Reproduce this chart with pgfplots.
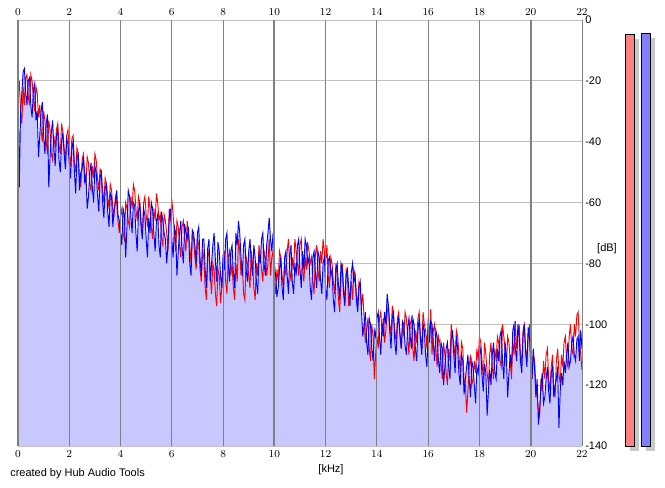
\documentclass[border=0pt]{standalone}
\usepackage{pgfplots}
\pgfplotsset{compat=1.18}
\usepackage{pgfplotstable}
\usepackage{fontspec}
\setmainfont{Liberation Sans}
\definecolor{lav}{RGB}{200,200,255}
\definecolor{hgrid}{RGB}{192,192,192}
\definecolor{vgrid}{RGB}{128,128,128}
\definecolor{mred}{RGB}{255,128,128}
\definecolor{mblue}{RGB}{128,128,255}
\definecolor{mshadow}{RGB}{200,200,200}

\pgfplotstableread{
x y
0.0 -22
0.05 -55
0.1 -30
0.15 -24
0.2 -17
0.25 -16
0.3 -24
0.35 -28
0.4 -20
0.45 -19
0.5 -28
0.55 -32
0.6 -23
0.65 -21
0.7 -33
0.75 -30
0.8 -45
0.85 -38
0.9 -30
0.95 -27
1.0 -38
1.05 -44
1.1 -34
1.15 -31
1.2 -55
1.25 -45
1.3 -37
1.35 -33
1.4 -42
1.45 -48
1.5 -38
1.55 -36
1.6 -46
1.65 -50
1.7 -40
1.75 -37
1.8 -44
1.85 -49
1.9 -39
1.95 -41
2.0 -47
2.05 -52
2.1 -42
2.15 -40
2.2 -50
2.25 -57
2.3 -45
2.35 -44
2.4 -56
2.45 -50
2.5 -49
2.55 -45
2.6 -53
2.65 -51
2.7 -62
2.75 -58
2.8 -50
2.85 -47
2.9 -55
2.95 -60
3.0 -48
3.05 -50
3.1 -57
3.15 -63
3.2 -52
3.25 -50
3.3 -60
3.35 -65
3.4 -55
3.45 -54
3.5 -63
3.55 -68
3.6 -57
3.65 -58
3.7 -68
3.75 -62
3.8 -60
3.85 -56
3.9 -64
3.95 -66
4.0 -70
4.05 -74
4.1 -62
4.15 -64
4.2 -78
4.25 -68
4.3 -56
4.35 -58
4.4 -64
4.45 -70
4.5 -60
4.55 -61
4.6 -70
4.65 -76
4.7 -63
4.75 -60
4.8 -68
4.85 -72
4.9 -62
4.95 -64
5.0 -72
5.05 -78
5.1 -65
5.15 -70
5.2 -60
5.25 -62
5.3 -70
5.35 -76
5.4 -66
5.45 -64
5.5 -74
5.55 -78
5.6 -63
5.65 -66
5.7 -70
5.75 -72
5.8 -80
5.85 -74
5.9 -65
5.95 -62
6.0 -72
6.05 -78
6.1 -68
6.15 -70
6.2 -84
6.25 -76
6.3 -70
6.35 -66
6.4 -75
6.45 -80
6.5 -67
6.55 -70
6.6 -72
6.65 -68
6.7 -80
6.75 -84
6.8 -69
6.85 -70
6.9 -74
6.95 -80
7.0 -70
7.05 -68
7.1 -78
7.15 -84
7.2 -72
7.25 -72
7.3 -82
7.35 -88
7.4 -75
7.45 -72
7.5 -86
7.55 -80
7.6 -74
7.65 -70
7.7 -79
7.75 -86
7.8 -73
7.85 -76
7.9 -84
7.95 -88
8.0 -77
8.05 -82
8.1 -72
8.15 -70
8.2 -80
8.25 -86
8.3 -76
8.35 -74
8.4 -83
8.45 -88
8.5 -70
8.55 -74
8.6 -66
8.65 -70
8.7 -78
8.75 -84
8.8 -74
8.85 -72
8.9 -82
8.95 -86
9.0 -76
9.05 -72
9.1 -80
9.15 -84
9.2 -74
9.25 -78
9.3 -86
9.35 -90
9.4 -77
9.45 -80
9.5 -72
9.55 -70
9.6 -80
9.65 -84
9.7 -74
9.75 -70
9.8 -65
9.85 -72
9.9 -76
9.95 -70
10.0 -80
10.05 -84
10.1 -91
10.15 -88
10.2 -82
10.25 -78
10.3 -88
10.35 -92
10.4 -78
10.45 -76
10.5 -84
10.55 -90
10.6 -77
10.65 -74
10.7 -86
10.75 -90
10.8 -80
10.85 -84
10.9 -74
10.95 -72
11.0 -82
11.05 -88
11.1 -76
11.15 -82
11.2 -72
11.25 -74
11.3 -80
11.35 -78
11.4 -88
11.45 -92
11.5 -78
11.55 -76
11.6 -83
11.65 -88
11.7 -76
11.75 -78
11.8 -85
11.85 -90
11.9 -80
11.95 -78
12.0 -88
12.05 -92
12.1 -79
12.15 -78
12.2 -84
12.25 -82
12.3 -92
12.35 -96
12.4 -82
12.45 -80
12.5 -87
12.55 -92
12.6 -80
12.65 -82
12.7 -90
12.75 -94
12.8 -84
12.85 -82
12.9 -88
12.95 -94
13.0 -83
13.05 -80
13.1 -86
13.15 -84
13.2 -92
13.25 -96
13.3 -88
13.35 -86
13.4 -96
13.45 -104
13.5 -100
13.55 -96
13.6 -106
13.65 -110
13.7 -98
13.75 -100
13.8 -108
13.85 -112
13.9 -102
13.95 -104
14.0 -98
14.05 -96
14.1 -104
14.15 -110
14.2 -100
14.25 -104
14.3 -96
14.35 -100
14.4 -90
14.45 -94
14.5 -102
14.55 -108
14.6 -98
14.65 -96
14.7 -106
14.75 -110
14.8 -100
14.85 -98
14.9 -103
14.95 -108
15.0 -99
15.05 -100
15.1 -107
15.15 -110
15.2 -101
15.25 -98
15.3 -104
15.35 -108
15.4 -98
15.45 -100
15.5 -108
15.55 -112
15.6 -102
15.65 -98
15.7 -105
15.75 -110
15.8 -100
15.85 -102
15.9 -110
15.95 -114
16.0 -103
16.05 -106
16.1 -99
16.15 -100
16.2 -106
16.25 -112
16.3 -102
16.35 -104
16.4 -112
16.45 -116
16.5 -106
16.55 -108
16.6 -120
16.65 -114
16.7 -108
16.75 -106
16.8 -114
16.85 -118
16.9 -105
16.95 -102
17.0 -110
17.05 -116
17.1 -104
17.15 -108
17.2 -116
17.25 -120
17.3 -110
17.35 -112
17.4 -123
17.45 -118
17.5 -114
17.55 -110
17.6 -118
17.65 -124
17.7 -112
17.75 -114
17.8 -120
17.85 -126
17.9 -114
17.95 -116
18.0 -110
18.05 -108
18.1 -117
18.15 -122
18.2 -113
18.25 -116
18.3 -130
18.35 -122
18.4 -115
18.45 -120
18.5 -110
18.55 -106
18.6 -116
18.65 -118
18.7 -108
18.75 -112
18.8 -104
18.85 -102
18.9 -112
18.95 -118
19.0 -106
19.05 -110
19.1 -124
19.15 -116
19.2 -110
19.25 -114
19.3 -102
19.35 -100
19.4 -108
19.45 -112
19.5 -100
19.55 -104
19.6 -112
19.65 -116
19.7 -104
19.75 -100
19.8 -109
19.85 -114
19.9 -101
19.95 -104
20.0 -112
20.05 -118
20.1 -108
20.15 -114
20.2 -124
20.25 -118
20.3 -133
20.35 -128
20.4 -120
20.45 -116
20.5 -126
20.55 -124
20.6 -118
20.65 -114
20.7 -122
20.75 -126
20.8 -116
20.85 -114
20.9 -124
20.95 -120
21.0 -118
21.05 -114
21.1 -134
21.15 -122
21.2 -116
21.25 -120
21.3 -112
21.35 -116
21.4 -110
21.45 -106
21.5 -114
21.55 -112
21.6 -106
21.65 -104
21.7 -110
21.75 -112
21.8 -105
21.85 -104
21.9 -112
21.95 -102
22.0 -108
}\bluedata

\pgfplotstableread{
x y
0.0 -26
0.05 -20
0.1 -30
0.15 -34
0.2 -22
0.25 -28
0.3 -19
0.35 -18
0.4 -25
0.45 -28
0.5 -18
0.55 -20
0.6 -26
0.65 -30
0.7 -22
0.75 -24
0.8 -32
0.85 -28
0.9 -36
0.95 -40
1.0 -30
1.05 -33
1.1 -40
1.15 -44
1.2 -33
1.25 -36
1.3 -44
1.35 -46
1.4 -38
1.45 -42
1.5 -36
1.55 -34
1.6 -41
1.65 -44
1.7 -34
1.75 -37
1.8 -42
1.85 -46
1.9 -38
1.95 -36
2.0 -44
2.05 -48
2.1 -39
2.15 -38
2.2 -47
2.25 -50
2.3 -42
2.35 -44
2.4 -52
2.45 -55
2.5 -46
2.55 -44
2.6 -50
2.65 -54
2.7 -45
2.75 -47
2.8 -54
2.85 -56
2.9 -48
2.95 -52
3.0 -44
3.05 -46
3.1 -52
3.15 -56
3.2 -49
3.25 -50
3.3 -56
3.35 -60
3.4 -52
3.45 -54
3.5 -58
3.55 -62
3.6 -54
3.65 -56
3.7 -62
3.75 -64
3.8 -58
3.85 -60
3.9 -66
3.95 -70
4.0 -64
4.05 -62
4.1 -70
4.15 -72
4.2 -60
4.25 -62
4.3 -66
4.35 -68
4.4 -58
4.45 -62
4.5 -54
4.55 -56
4.6 -62
4.65 -66
4.7 -58
4.75 -60
4.8 -66
4.85 -70
4.9 -60
4.95 -58
5.0 -64
5.05 -68
5.1 -58
5.15 -62
5.2 -68
5.25 -72
5.3 -62
5.35 -66
5.4 -57
5.45 -60
5.5 -66
5.55 -64
5.6 -72
5.65 -74
5.7 -64
5.75 -66
5.8 -70
5.85 -76
5.9 -62
5.95 -66
6.0 -59
6.05 -64
6.1 -70
6.15 -76
6.2 -66
6.25 -68
6.3 -74
6.35 -78
6.4 -68
6.45 -66
6.5 -72
6.55 -76
6.6 -66
6.65 -70
6.7 -74
6.75 -80
6.8 -70
6.85 -72
6.9 -78
6.95 -82
7.0 -72
7.05 -74
7.1 -82
7.15 -86
7.2 -76
7.25 -78
7.3 -88
7.35 -92
7.4 -78
7.45 -76
7.5 -84
7.55 -90
7.6 -80
7.65 -82
7.7 -90
7.75 -94
7.8 -82
7.85 -84
7.9 -93
7.95 -88
8.0 -80
8.05 -76
8.1 -86
8.15 -90
8.2 -78
8.25 -76
8.3 -84
8.35 -80
8.4 -88
8.45 -92
8.5 -80
8.55 -86
8.6 -72
8.65 -76
8.7 -84
8.75 -80
8.8 -90
8.85 -92
8.9 -78
8.95 -80
9.0 -84
9.05 -88
9.1 -76
9.15 -80
9.2 -88
9.25 -92
9.3 -80
9.35 -84
9.4 -74
9.45 -78
9.5 -82
9.55 -86
9.6 -76
9.65 -78
9.7 -84
9.75 -80
9.8 -72
9.85 -84
9.9 -78
9.95 -76
10.0 -86
10.05 -90
10.1 -82
10.15 -86
10.2 -76
10.25 -78
10.3 -84
10.35 -88
10.4 -80
10.45 -84
10.5 -76
10.55 -72
10.6 -82
10.65 -86
10.7 -78
10.75 -82
10.8 -72
10.85 -76
10.9 -80
10.95 -84
11.0 -74
11.05 -72
11.1 -82
11.15 -86
11.2 -78
11.25 -82
11.3 -73
11.35 -76
11.4 -80
11.45 -78
11.5 -86
11.55 -90
11.6 -77
11.65 -74
11.7 -82
11.75 -86
11.8 -76
11.85 -80
11.9 -72
11.95 -76
12.0 -80
12.05 -74
12.1 -84
12.15 -88
12.2 -78
12.25 -80
12.3 -86
12.35 -90
12.4 -80
12.45 -84
12.5 -92
12.55 -96
12.6 -84
12.65 -80
12.7 -88
12.75 -92
12.8 -82
12.85 -84
12.9 -94
12.95 -90
13.0 -86
13.05 -92
13.1 -82
13.15 -84
13.2 -90
13.25 -94
13.3 -86
13.35 -88
13.4 -94
13.45 -90
13.5 -98
13.55 -106
13.6 -102
13.65 -98
13.7 -108
13.75 -112
13.8 -100
13.85 -104
13.9 -118
13.95 -110
14.0 -104
14.05 -108
14.1 -98
14.15 -96
14.2 -102
14.25 -98
14.3 -106
14.35 -102
14.4 -96
14.45 -94
14.5 -100
14.55 -104
14.6 -94
14.65 -98
14.7 -102
14.75 -106
14.8 -98
14.85 -96
14.9 -104
14.95 -108
15.0 -100
15.05 -104
15.1 -96
15.15 -98
15.2 -104
15.25 -110
15.3 -100
15.35 -98
15.4 -108
15.45 -112
15.5 -102
15.55 -106
15.6 -98
15.65 -96
15.7 -104
15.75 -108
15.8 -96
15.85 -100
15.9 -102
15.95 -108
16.0 -98
16.05 -104
16.1 -95
16.15 -110
16.2 -102
16.25 -100
16.3 -108
16.35 -114
16.4 -104
16.45 -106
16.5 -112
16.55 -118
16.6 -106
16.65 -110
16.7 -116
16.75 -120
16.8 -108
16.85 -112
16.9 -100
16.95 -104
17.0 -106
17.05 -112
17.1 -102
17.15 -104
17.2 -110
17.25 -116
17.3 -106
17.35 -108
17.4 -118
17.45 -120
17.5 -129
17.55 -122
17.6 -114
17.65 -110
17.7 -120
17.75 -118
17.8 -112
17.85 -116
17.9 -108
17.95 -112
18.0 -104
18.05 -106
18.1 -112
18.15 -118
18.2 -106
18.25 -110
18.3 -116
18.35 -120
18.4 -110
18.45 -106
18.5 -114
18.55 -118
18.6 -108
18.65 -112
18.7 -104
18.75 -106
18.8 -112
18.85 -114
18.9 -100
18.95 -104
19.0 -108
19.05 -114
19.1 -104
19.15 -106
19.2 -112
19.25 -118
19.3 -106
19.35 -110
19.4 -99
19.45 -108
19.5 -104
19.55 -100
19.6 -110
19.65 -112
19.7 -102
19.75 -100
19.8 -108
19.85 -112
19.9 -104
19.95 -100
20.0 -114
20.05 -118
20.1 -110
20.15 -112
20.2 -120
20.25 -124
20.3 -128
20.35 -130
20.4 -118
20.45 -122
20.5 -112
20.55 -118
20.6 -110
20.65 -108
20.7 -118
20.75 -122
20.8 -114
20.85 -110
20.9 -120
20.95 -124
21.0 -112
21.05 -108
21.1 -116
21.15 -120
21.2 -110
21.25 -114
21.3 -106
21.35 -104
21.4 -112
21.45 -114
21.5 -104
21.55 -100
21.6 -108
21.65 -110
21.7 -100
21.75 -104
21.8 -97
21.85 -96
21.9 -106
21.95 -110
22.0 -115
}\reddata

\begin{document}
\begin{tikzpicture}
\useasboundingbox (0,0) rectangle (498.75pt,365.25pt);
\pgfplotsset{every axis/.append style={font=\fontsize{8.25}{10}\selectfont}}
% main axis: horizontal grid, fill, traces, bottom and right labels
\begin{axis}[
  at={(13.5pt,30.75pt)}, anchor=south west,
  width=423pt, height=319.5pt, scale only axis,
  xmin=0, xmax=22, ymin=-140, ymax=0,
  axis line style={draw=none},
  major tick length=0pt,
  xtick={0,2,...,22},
  ytick={-140,-120,-100,-80,-60,-40,-20,0},
  yticklabels={-140,-120,-100,-80,-60,-40,-20,0},
  yticklabel pos=right,
  ymajorgrids, grid style={hgrid, line width=0.75pt},
  xticklabel style={inner sep=0pt, anchor=north, yshift=-3pt},
  yticklabel style={inner sep=0pt, anchor=west, xshift=2.25pt},
  clip=true,
]
\addplot[fill=lav, draw=none] table[x=x,y=y] {\bluedata} -- (axis cs:22,-140) -- (axis cs:0,-140) -- cycle;
\addplot[red, line width=0.7pt, mark=none] table[x=x,y=y] {\reddata};
\addplot[blue, line width=0.7pt, mark=none] table[x=x,y=y] {\bluedata};
\end{axis}
% overlay axis: vertical grid and top labels
\begin{axis}[
  at={(13.5pt,30.75pt)}, anchor=south west,
  width=423pt, height=319.5pt, scale only axis,
  xmin=0, xmax=22, ymin=-140, ymax=0,
  axis line style={draw=none},
  major tick length=0pt,
  xtick={0,2,...,22},
  xticklabel pos=upper,
  ytick=\empty,
  xmajorgrids, grid style={vgrid, line width=0.75pt},
  extra x ticks={0,10,20},
  extra x tick labels={},
  extra x tick style={grid style={vgrid, line width=1.5pt}},
  xticklabel style={inner sep=0pt, anchor=south, yshift=3pt},
]
\end{axis}
% level meters
\begin{axis}[
  at={(465pt,30.75pt)}, anchor=south west,
  width=30pt, height=319.5pt, scale only axis,
  xmin=0, xmax=40, ymin=-140, ymax=0,
  hide axis, clip=false,
]
\addplot[fill=mshadow, draw=none] coordinates {(9.5,-141.8) (9.5,-6.2) (19,-6.2) (19,-141.8)} -- cycle;
\addplot[fill=mshadow, draw=none] coordinates {(25.5,-141.8) (25.5,-5.9) (35,-5.9) (35,-141.8)} -- cycle;
\addplot[fill=mred, draw=black, line width=0.75pt] coordinates {(5.7,-140) (5.7,-4.9) (14.3,-4.9) (14.3,-140)} -- cycle;
\addplot[fill=mblue, draw=black, line width=0.75pt] coordinates {(21.7,-140) (21.7,-4.6) (30.7,-4.6) (30.7,-140)} -- cycle;
\end{axis}
\node[font=\fontsize{8.25}{10}\selectfont, inner sep=0pt] at (248.25pt,12.75pt) {[kHz]};
\node[font=\fontsize{8.25}{10}\selectfont, inner sep=0pt] at (455.25pt,178.5pt) {[dB]};
\node[font=\fontsize{8.25}{10}\selectfont, inner sep=0pt, anchor=west] at (7.5pt,9.75pt) {created by Hub Audio Tools};
\end{tikzpicture}
\end{document}
